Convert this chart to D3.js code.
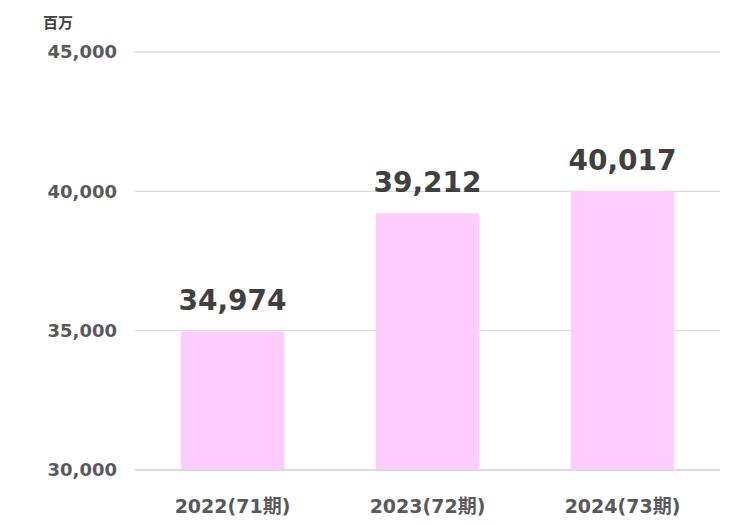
<!DOCTYPE html>
<html>
<head>
<meta charset="utf-8">
<script src="https://cdn.jsdelivr.net/npm/d3@7"></script>
<style>
  body { margin: 0; background: #fff; }
  svg text { font-family: "DejaVu Sans", "Noto Sans CJK JP", sans-serif; font-weight: bold; }
</style>
</head>
<body>
<div id="chart"></div>
<script>
const categories = ["2022(71期)", "2023(72期)", "2024(73期)"];
const values = [34974, 39212, 40017];
const yTicks = [30000, 35000, 40000, 45000];
const unitLabel = "百万";

const width = 745, height = 525;
const plot = { left: 135, right: 720, top: 52, bottom: 470 };

const svg = d3.select("#chart").append("svg")
    .attr("width", width)
    .attr("height", height);

const x = d3.scaleBand()
    .domain(categories)
    .range([plot.left, plot.right])
    .paddingInner(0.47)
    .paddingOuter(0.235);

const y = d3.scaleLinear()
    .domain([30000, 45000])
    .range([plot.bottom, plot.top]);

const fmt = d3.format(",");

// grid lines
svg.append("g")
    .selectAll("line")
    .data(yTicks)
    .join("line")
    .attr("x1", plot.left)
    .attr("x2", plot.right)
    .attr("y1", d => y(d))
    .attr("y2", d => y(d))
    .attr("stroke", "#d9d9d9")
    .attr("stroke-width", 1.3);

// y tick labels
svg.append("g")
    .selectAll("text")
    .data(yTicks)
    .join("text")
    .attr("x", 117)
    .attr("y", d => y(d))
    .attr("dy", "0.36em")
    .attr("text-anchor", "end")
    .attr("fill", "#595959")
    .attr("font-size", 18)
    .text(d => fmt(d));

svg.append("text")
    .attr("x", 43)
    .attr("y", 28)
    .attr("fill", "#404040")
    .attr("font-size", 15)
    .text(unitLabel);

// bars
svg.append("g")
    .selectAll("rect")
    .data(values)
    .join("rect")
    .attr("x", (d, i) => x(categories[i]))
    .attr("width", x.bandwidth())
    .attr("y", d => y(d))
    .attr("height", d => y(30000) - y(d))
    .attr("fill", "#ffccff");

// redraw baseline over bars
svg.append("line")
    .attr("x1", plot.left)
    .attr("x2", plot.right)
    .attr("y1", y(30000))
    .attr("y2", y(30000))
    .attr("stroke", "#d9d9d9")
    .attr("stroke-width", 1.3);

// value labels
svg.append("g")
    .selectAll("text")
    .data(values)
    .join("text")
    .attr("x", (d, i) => x(categories[i]) + x.bandwidth() / 2)
    .attr("y", d => y(d) - 21)
    .attr("text-anchor", "middle")
    .attr("fill", "#404040")
    .attr("font-size", 28)
    .text(d => fmt(d));

// category labels
svg.append("g")
    .selectAll("text")
    .data(categories)
    .join("text")
    .attr("x", d => x(d) + x.bandwidth() / 2)
    .attr("y", 513)
    .attr("text-anchor", "middle")
    .attr("fill", "#595959")
    .attr("font-size", 19)
    .text(d => d);
</script>
</body>
</html>
